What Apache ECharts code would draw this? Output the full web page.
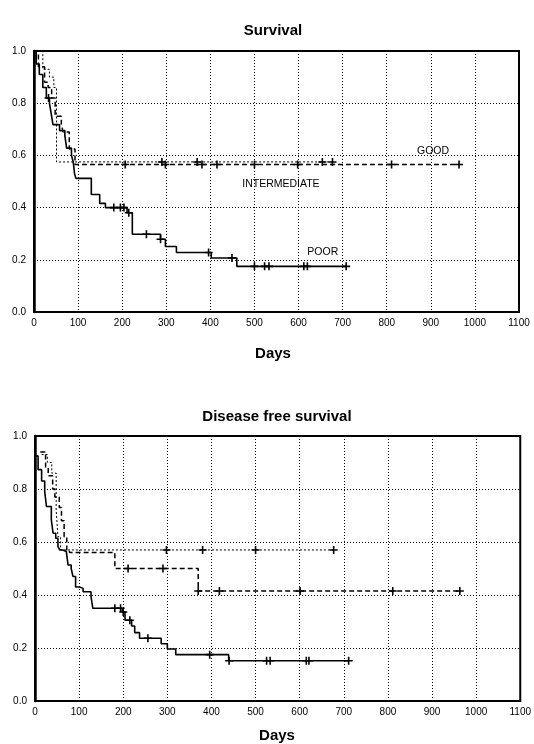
<!DOCTYPE html>
<html>
<head>
<meta charset="utf-8">
<script src="https://cdn.jsdelivr.net/npm/echarts@6/dist/echarts.min.js"></script>
<style>html,body{margin:0;padding:0;background:#fff;}#c{width:534px;height:744px;}</style>
</head>
<body>
<div id="c"></div>
<script>
// ---------- data (days, survival probability) ----------
const dayTicks = [0,100,200,300,400,500,600,700,800,900,1000,1100];
const probTicks = [0.0,0.2,0.4,0.6,0.8,1.0];

// Survival (top)
const osPoor = [[0,1.0],[5,0.95],[12,0.91],[20,0.86],[28,0.82],[35,0.80],[39,0.76],[43,0.718],[58,0.695],[70,0.675],[74,0.628],[85,0.60],[89,0.575],[92,0.53],[95,0.512],[130,0.45],[149,0.416],[162,0.40],[211,0.38],[223,0.298],[287,0.279],[298,0.251],[323,0.228],[402,0.207],[460,0.175],[708,0.175]];
const osPoorCens = [33,181,196,204,215,255,287,396,449,500,523,533,612,620,708];
const osGood = [[0,1.0],[10,0.94],[24,0.88],[32,0.86],[40,0.82],[48,0.75],[62,0.72],[66,0.69],[80,0.625],[93,0.565],[964,0.565]];
const osGoodCens = [207,298,381,415,500,598,811,964];
const osInter = [[0,1.0],[20,0.93],[35,0.90],[45,0.86],[51,0.575],[677,0.575]];
const osInterCens = [290,370,654,677];

// Disease free survival (bottom)
const dfsPoor = [[0,0.925],[7,0.873],[15,0.83],[22,0.79],[26,0.734],[37,0.684],[41,0.633],[47,0.614],[52,0.583],[56,0.57],[63,0.564],[71,0.557],[75,0.513],[82,0.50],[86,0.47],[92,0.43],[101,0.425],[109,0.412],[127,0.394],[131,0.35],[198,0.336],[204,0.305],[219,0.283],[226,0.258],[237,0.237],[286,0.216],[300,0.196],[319,0.175],[439,0.152],[711,0.152]];
const dfsPoorCens = [181,194,200,215,256,396,440,525,533,615,621,711];
const dfsGood = [[12,0.94],[24,0.88],[30,0.85],[40,0.80],[45,0.77],[55,0.73],[60,0.68],[66,0.62],[72,0.57],[78,0.56],[181,0.50],[370,0.415],[963,0.415]];
const dfsGoodCens = [211,290,370,418,601,811,963];
const dfsInter = [[15,0.93],[28,0.90],[38,0.86],[48,0.72],[52,0.62],[58,0.57],[677,0.57]];
const dfsInterCens = [298,380,500,677];

// ---------- helpers ----------
function survAt(curve, t){ let s = curve[0][1]; for (const p of curve){ if (p[0] <= t) s = p[1]; } return s; }
function cens(curve, times){ return times.map(t => [t, survAt(curve, t)]); }
const plus = 'path://M4,0h2v4h4v2h-4v4h-2v-4h-4v-2h4z';
const FONT = 'Liberation Sans';

function axes(gi){
  return {
    x: {type:'value', gridIndex:gi, min:0, max:1100, interval:100,
        axisLine:{show:true, onZero:false, lineStyle:{color:'#000', width:2}},
        axisTick:{show:false},
        axisLabel:{color:'#000', fontFamily:FONT, fontSize:10, margin:6, formatter:v=>dayTicks.includes(v)?String(v):''},
        splitLine:{show:true, lineStyle:{color:'#000', type:[1,2], width:1}}},
    y: {type:'value', gridIndex:gi, min:0, max:1, interval:0.2,
        axisLine:{show:true, onZero:false, lineStyle:{color:'#000', width:2.5}},
        axisTick:{show:false},
        axisLabel:{color:'#000', fontFamily:FONT, fontSize:10, margin:8, formatter:v=>probTicks.some(p=>Math.abs(p-v)<1e-6)?v.toFixed(1):''},
        splitLine:{show:true, lineStyle:{color:'#000', type:[1,2], width:1}}}
  };
}
const a0 = axes(0), a1 = axes(1);

function lineS(gi, data, style){
  return {type:'line', xAxisIndex:gi, yAxisIndex:gi, data:data, step:'end', symbol:'none',
          lineStyle:style, silent:true, animation:false, z:3};
}
function censS(gi, data){
  return {type:'scatter', xAxisIndex:gi, yAxisIndex:gi, data:data, symbol:plus, symbolSize:8,
          itemStyle:{color:'#000', opacity:1}, silent:true, animation:false, z:4};
}
const solid = {color:'#000', width:1.6, type:'solid'};
const dashed = {color:'#000', width:1.5, type:[5,3]};
const dotted = {color:'#000', width:1, type:[2,2]};

function lbl(gi, text, x, y){
  return {type:'scatter', xAxisIndex:gi, yAxisIndex:gi, data:[[x,y]], symbolSize:1, silent:true, animation:false,
          itemStyle:{color:'#fff', opacity:1},
          label:{show:true, formatter:text, position:'inside', color:'#000', opacity:1, textBorderWidth:0, fontFamily:FONT, fontSize:10.5}};
}

const option = {
  backgroundColor:'#fff',
  animation:false,
  title:[
    {text:'Survival', left:268, top:18, textAlign:'center', textStyle:{fontFamily:FONT, fontWeight:'bold', fontSize:15, color:'#000'}},
    {text:'Days', left:268, top:341, textAlign:'center', textStyle:{fontFamily:FONT, fontWeight:'bold', fontSize:15, color:'#000'}},
    {text:'Disease free survival', left:272, top:404, textAlign:'center', textStyle:{fontFamily:FONT, fontWeight:'bold', fontSize:15, color:'#000'}},
    {text:'Days', left:272, top:723, textAlign:'center', textStyle:{fontFamily:FONT, fontWeight:'bold', fontSize:15, color:'#000'}}
  ],
  grid:[
    {left:34, right:15, top:51, height:261, show:true, borderColor:'#000', borderWidth:2, backgroundColor:'#fff'},
    {left:35, right:12, top:436, height:265, show:true, borderColor:'#000', borderWidth:2, backgroundColor:'#fff'}
  ],
  xAxis:[a0.x, a1.x],
  yAxis:[a0.y, a1.y],
  series:[
    lineS(0, osInter, dotted),
    lineS(0, osGood, dashed),
    lineS(0, osPoor, solid),
    censS(0, cens(osPoor, osPoorCens)),
    censS(0, cens(osGood, osGoodCens)),
    censS(0, cens(osInter, osInterCens)),
    lbl(0, 'GOOD', 905, 0.615),
    lbl(0, 'INTERMEDIATE', 560, 0.49),
    lbl(0, 'POOR', 655, 0.228),
    lineS(1, dfsInter, dotted),
    lineS(1, dfsGood, dashed),
    lineS(1, dfsPoor, solid),
    censS(1, cens(dfsPoor, dfsPoorCens)),
    censS(1, cens(dfsGood, dfsGoodCens)),
    censS(1, cens(dfsInter, dfsInterCens))
  ]
};
const chart = echarts.init(document.getElementById('c'), null, {renderer:'canvas'});
chart.setOption(option);
</script>
</body>
</html>
